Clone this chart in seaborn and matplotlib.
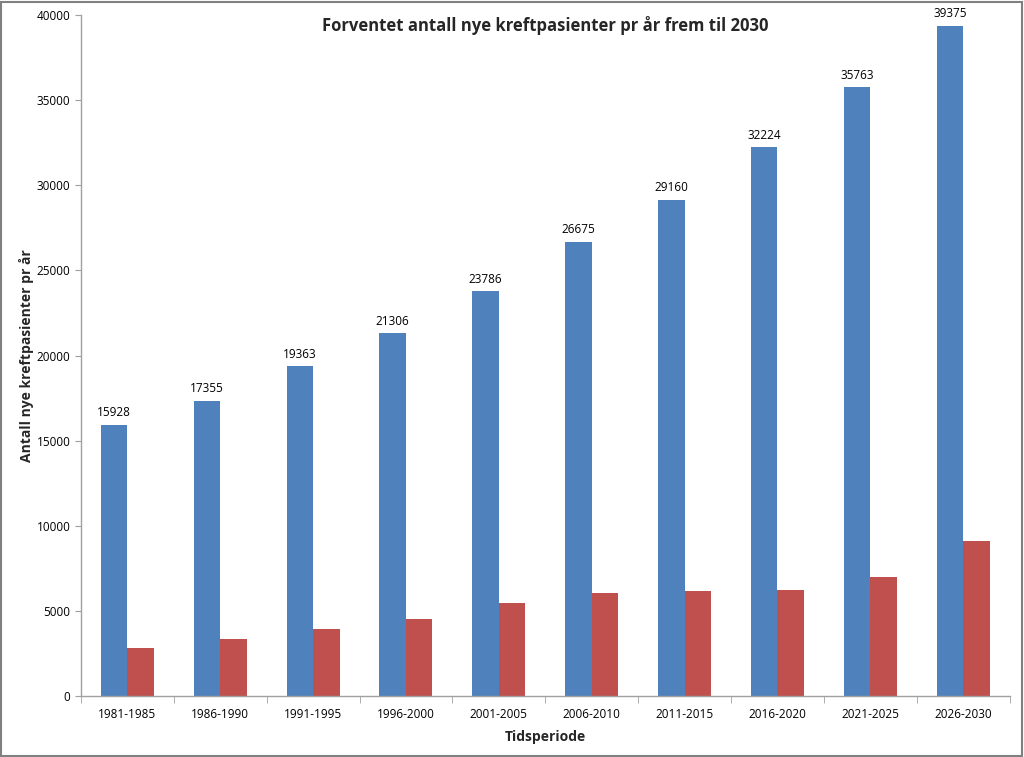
import numpy as np
import pandas as pd
import matplotlib
matplotlib.use("Agg")
import matplotlib.pyplot as plt
import seaborn as sns
from matplotlib.patches import Rectangle

# data
perioder = ["1981-1985", "1986-1990", "1991-1995", "1996-2000", "2001-2005",
            "2006-2010", "2011-2015", "2016-2020", "2021-2025", "2026-2030"]
serie1 = [15928, 17355, 19363, 21306, 23786, 26675, 29160, 32224, 35763, 39375]
serie2 = [2800, 3350, 3930, 4500, 5460, 6030, 6170, 6240, 6990, 9120]

df = pd.DataFrame({
    "Tidsperiode": perioder * 2,
    "Antall": serie1 + serie2,
    "Serie": ["Serie1"] * len(perioder) + ["Serie2"] * len(perioder),
})

sns.set_style("white")
plt.rcParams['font.family'] = ['Open Sans', 'DejaVu Sans']

fig = plt.figure(figsize=(10.24, 7.57), dpi=100)
ax = fig.add_axes([0.079, 0.0806, 0.907, 0.8994])

sns.barplot(data=df, x="Tidsperiode", y="Antall", hue="Serie",
            palette=["#4F81BD", "#C0504D"], width=0.57, saturation=1,
            legend=False, linewidth=0, ax=ax)

# tall over blå stolper
ax.bar_label(ax.containers[0], labels=[str(v) for v in serie1], padding=4,
             fontsize=8.5, color="#000000")

ax.set_ylim(0, 40000)
ax.set_yticks(np.arange(0, 40001, 5000))
ax.set_xlim(-0.5, len(perioder) - 0.5)
ax.tick_params(axis="y", labelsize=8.5, length=4, direction="out", color="#A0A0A0",
               left=True, labelcolor="#000000")
ax.tick_params(axis="x", labelsize=8.5, length=0, pad=9, labelcolor="#000000")
ax.set_xticks(np.arange(-0.5, len(perioder), 1), minor=True)
ax.tick_params(axis="x", which="minor", length=5, direction="out", color="#A0A0A0", bottom=True)

for s in ["top", "right"]:
    ax.spines[s].set_visible(False)
for s in ["left", "bottom"]:
    ax.spines[s].set_color("#A0A0A0")
    ax.spines[s].set_linewidth(1.0)

ax.set_xlabel("Tidsperiode", fontsize=10, fontweight="bold", labelpad=6)
ax.set_ylabel("Antall nye kreftpasienter pr år", fontsize=10, fontweight="bold")
ax.yaxis.set_label_coords(-0.05, 0.5)
ax.set_title("Forventet antall nye kreftpasienter pr år frem til 2030",
             fontsize=12, fontweight="bold", y=0.965)

# ramme rundt figuren
fig.patches.append(Rectangle((0.001, 0.001), 0.997, 0.997, transform=fig.transFigure,
                             fill=False, edgecolor="#808080", linewidth=1.5))

fig.savefig("out.png", dpi=100)
